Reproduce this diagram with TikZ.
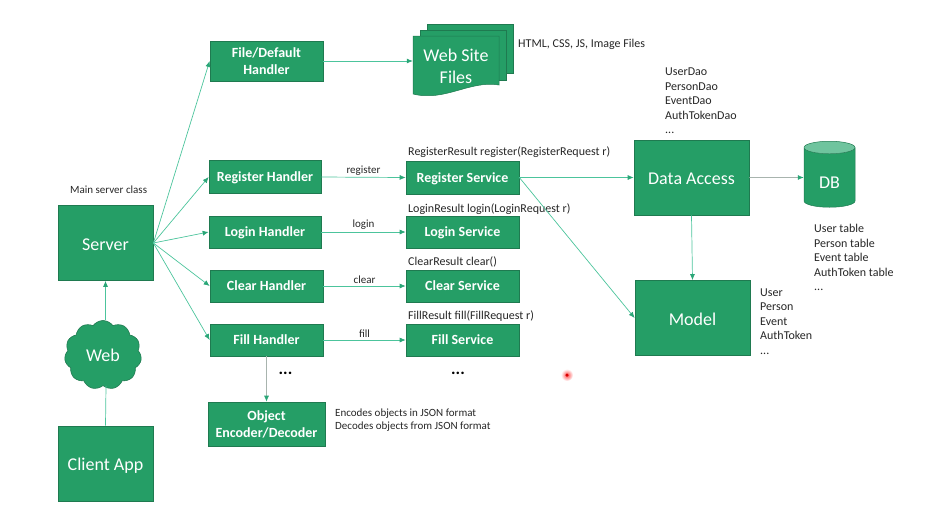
\documentclass[tikz,border=0pt]{standalone}
\usepackage{fontspec}
\setmainfont{Carlito}
\usetikzlibrary{arrows.meta,calc,positioning,shapes.geometric,shapes.symbols}
\definecolor{boxgreen}{HTML}{259E66}
\definecolor{boxedge}{HTML}{1F7A50}
\definecolor{linkgreen}{HTML}{4CC49C}
\definecolor{tipgreen}{HTML}{2AA677}
\definecolor{capgreen}{HTML}{6FC49E}
\definecolor{linkgrey}{HTML}{A8B4AE}
\newcommand{\sz}[1]{\fontsize{#1}{#1}\selectfont}
\newcommand{\notesz}{\fontsize{12}{14.5}\selectfont}
\newcommand{\smallnotesz}{\fontsize{11}{13}\selectfont}
\tikzset{
  block/.style={rectangle, fill=boxgreen, draw=boxedge, line width=0.7pt, text=white, align=center, inner sep=0pt},
  smallblock/.style={block, minimum width=113pt, minimum height=32pt, font=\sz{14}\bfseries, text depth=-1pt},
  bigblock/.style={block, minimum width=95pt, minimum height=75pt, font=\sz{18}, text height=14pt, text depth=0pt},
  note/.style={text=black!85, font=\notesz, align=left, inner sep=0pt},
  smallnote/.style={note, font=\smallnotesz},
  link/.style={-{Latex[length=6pt,width=5pt,color=tipgreen]}, draw=linkgreen, line width=0.7pt},
  greylink/.style={link, draw=linkgrey},
  edgelabel/.style={above=2pt, inner sep=0pt, font=\sz{11}, text=black!85},
  doc/.style={fill=boxgreen, draw=boxedge, line width=0.5pt},
}
\begin{document}
\begin{tikzpicture}[x=1pt,y=-1pt]
  \useasboundingbox (0,0) rectangle (949,531);
  % left column
  \node[bigblock] (server) at (105.5,243) {Server};
  \node[bigblock] (client) at (105.5,463.5) {Client App};
  \node[cloud, cloud puffs=11, cloud puff arc=110, aspect=1.1, fill=boxgreen, draw=boxedge, line width=0.6pt, text=white, font=\sz{18}, minimum width=77pt, minimum height=69pt, inner sep=0pt] (web) at (103,355) {Web};
  \node[smallnote, anchor=west] (serverlabel) at (70,190) {Main server class};
  % handlers
  \node[smallblock, minimum height=40pt] (filehandler) at (266.5,61) {File/Default\\[3pt]Handler};
  \node[smallblock, minimum width=112pt, minimum height=33pt] (registerhandler) at (265,177) {Register Handler};
  \node[smallblock, minimum width=112pt] (loginhandler) at (265,232) {Login Handler};
  \node[smallblock] (clearhandler) at (266.5,286) {Clear Handler};
  \node[smallblock] (fillhandler) at (266.5,340) {Fill Handler};
  \node[smallblock, minimum width=117pt, minimum height=44pt] (encoder) at (266.5,424) {Object\\[3pt]Encoder/Decoder};
  % services
  \node[smallblock, minimum height=33pt] (registerservice) at (462.5,177.5) {Register Service};
  \node[smallblock] (loginservice) at (462.5,232) {Login Service};
  \node[smallblock] (clearservice) at (462.5,286) {Clear Service};
  \node[smallblock] (fillservice) at (462.5,340) {Fill Service};
  % web site files
  \draw[doc] (427,24) -- (513,24) -- (513,73) -- (427,73) -- cycle;
  \draw[doc] (420,30) -- (506,30) -- (506,80) -- (420,80) -- cycle;
  \draw[doc] (413,36) -- (499,36) -- (499,85) .. controls (470,80) and (445,102) .. (413,94) -- cycle;
  \node[text=white, font=\sz{18}, align=center, inner sep=0pt, minimum width=86pt, minimum height=60pt] (files) at (456,66) {Web Site\\[4pt]Files};
  % data side
  \node[bigblock, minimum width=115pt] (dataaccess) at (691.5,177.5) {Data Access};
  \node[bigblock, minimum width=115pt] (model) at (692.5,318) {Model};
  \node[cylinder, shape border rotate=90, aspect=0.6, cylinder uses custom fill, cylinder body fill=boxgreen, cylinder end fill=capgreen, draw=boxedge, line width=0.5pt, text=white, font=\sz{18}, minimum width=51pt, minimum height=66pt, inner sep=0pt] (db) at (829.5,177.5) {\raisebox{-5pt}[12pt][0pt]{DB}};
  % notes
  \node[note, anchor=west] (fileslabel) at (518,44) {HTML, CSS, JS, Image Files};
  \node[note, anchor=north west] (daolabel) at (665,68) {UserDao\\PersonDao\\EventDao\\AuthTokenDao\\...};
  \node[note, anchor=west] (registersig) at (408,152) {RegisterResult register(RegisterRequest r)};
  \node[note, anchor=west] (loginsig) at (408,209) {LoginResult login(LoginRequest r)};
  \node[note, anchor=west] (clearsig) at (408,262) {ClearResult clear()};
  \node[note, anchor=west] (fillsig) at (408,316) {FillResult fill(FillRequest r)};
  \node[note, anchor=north west] (tablelabel) at (814,224) {User table\\Person table\\Event table\\AuthToken table\\...};
  \node[note, anchor=north west] (modellabel) at (760,288.5) {User\\Person\\Event\\AuthToken\\...};
  \node[smallnote, anchor=north west] (encoderlabel) at (335,409) {Encodes objects in JSON format\\Decodes objects from JSON format};
  \node[text=black, font=\sz{17}\bfseries, inner sep=0pt] (dotsleft) at (285.5,373) {...};
  \node[text=black, font=\sz{17}\bfseries, inner sep=0pt] (dotsright) at (458,373) {...};
  % cursor
  \node[circle, minimum size=12pt, inner sep=0pt, inner color=red!70, outer color=white] (halo) at (567,375) {};
  \node[circle, fill=red!85!black, minimum size=3.5pt, inner sep=0pt] (cursor) at (halo) {};
  % connectors
  \path (client.north) edge[draw=linkgreen, line width=0.7pt] ($(web.south)+(3,0)$);
  \path ($(web.north)+(2.5,0)$) edge[link] (server.south);
  \path (server.east) edge[link] (filehandler.west);
  \path (server.east) edge[link] (registerhandler.west);
  \path (server.east) edge[link] (loginhandler.west);
  \path (server.east) edge[link] (clearhandler.west);
  \path (server.east) edge[link] (fillhandler.west);
  \path (fillhandler.south) edge[greylink] (encoder.north);
  \path (filehandler.east) edge[link] (filehandler.east -| files.west);
  \path (registerhandler.east) edge[link] node[edgelabel]{register} (registerservice.west);
  \path (loginhandler.east) edge[link] node[edgelabel]{login} (loginservice.west);
  \path (clearhandler.east) edge[link] node[edgelabel]{clear} (clearservice.west);
  \path (fillhandler.east) edge[link] node[edgelabel]{fill} (fillservice.west);
  \path (registerservice.east) edge[link] (dataaccess.west);
  \path (registerservice.east) edge[link] (model.west);
  \path (dataaccess.south) edge[link] (model.north);
  \path (dataaccess.east) edge[greylink] (db.west);
\end{tikzpicture}
\end{document}
